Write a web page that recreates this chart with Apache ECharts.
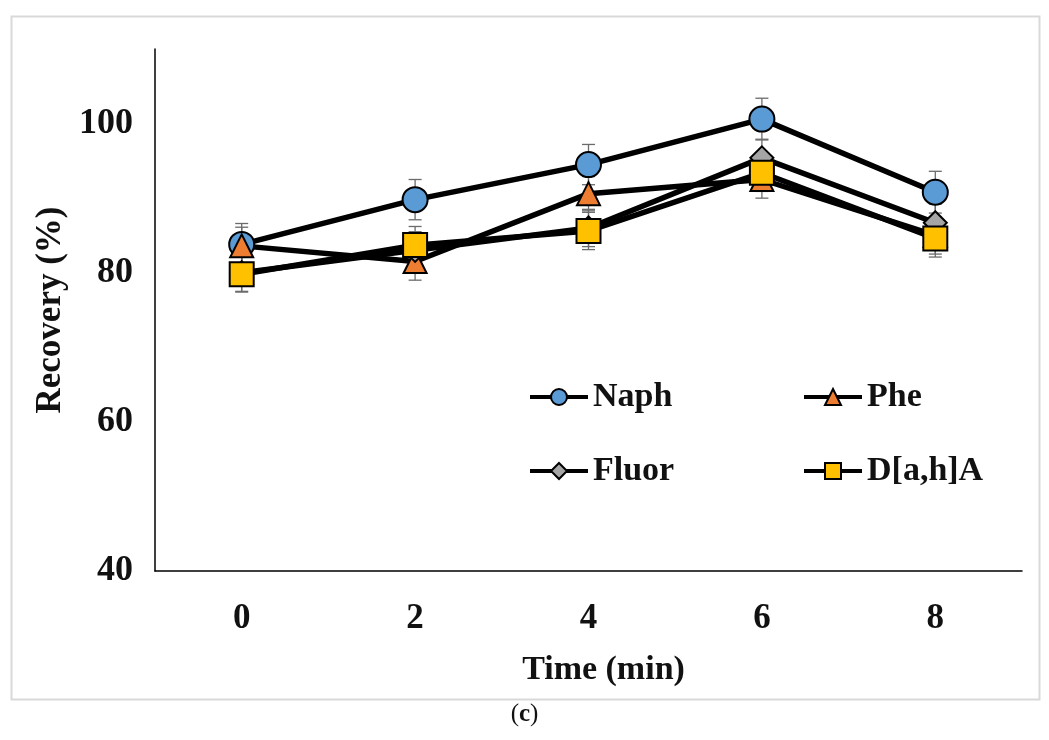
<!DOCTYPE html>
<html>
<head>
<meta charset="utf-8">
<script src="https://cdn.jsdelivr.net/npm/echarts@6/dist/echarts.min.js"></script>
<style>
html,body{margin:0;padding:0;background:#fff;}
#chart{width:1049px;height:740px;}
</style>
</head>
<body>
<div id="chart"></div>
<script>
const categories = ['0', '2', '4', '6', '8'];
const naph  = [83.8, 89.8, 94.5, 100.6, 90.8];
const phe   = [83.6, 81.5, 90.6, 92.5, 85.0];
const fluor = [80.0, 83.0, 86.0, 95.4, 86.7];
const dah   = [79.8, 83.7, 85.6, 93.4, 84.6];
const naphErr  = [2.8, 2.7, 2.7, 2.8, 2.8];
const pheErr   = [2.5, 2.5, 2.3, 2.5, 2.5];
const fluorErr = [2.5, 2.5, 2.5, 2.5, 2.5];
const dahErr   = [2.4, 2.5, 2.5, 2.5, 2.5];
const yTicks = [40, 60, 80, 100];

const FONT = '"Liberation Serif", "DejaVu Serif", serif';
const colors = {Naph:'#5B9BD5', Phe:'#ED7D31', Fluor:'#A5A5A5', 'D[a,h]A':'#FFC000'};

function errSeries(vals, errs, name) {
  return {
    type: 'custom',
    name: name + '_err',
    z: 1,
    silent: true,
    data: vals.map((v, i) => [i, v, errs[i]]),
    renderItem: function (params, api) {
      const x = api.value(0), v = api.value(1), e = api.value(2);
      const top = api.coord([x, v + e]);
      const bot = api.coord([x, v - e]);
      const w = 6.5;
      const st = {stroke: '#6b6b6b', lineWidth: 1.3};
      return {type: 'group', children: [
        {type: 'line', shape: {x1: top[0], y1: top[1], x2: bot[0], y2: bot[1]}, style: st},
        {type: 'line', shape: {x1: top[0]-w, y1: top[1], x2: top[0]+w, y2: top[1]}, style: st},
        {type: 'line', shape: {x1: bot[0]-w, y1: bot[1], x2: bot[0]+w, y2: bot[1]}, style: st}
      ]};
    }
  };
}

function lineSeries(name, vals, symbol, size) {
  return {
    type: 'line',
    name: name,
    data: vals,
    symbol: symbol,
    symbolSize: size,
    z: 3,
    lineStyle: {color: '#000', width: 5.5},
    itemStyle: {color: colors[name], borderColor: '#000', borderWidth: 2},
    emphasis: {disabled: true}
  };
}

function legend(name, left, top) {
  return {
    data: [name], left: left, top: top, orient: 'horizontal',
    itemWidth: 58, itemHeight: 20, selectedMode: false,
    lineStyle: {width: 4, color: '#000'},
    textStyle: {fontFamily: FONT, fontWeight: 'bold', fontSize: 34, color: '#111'}
  };
}

const chart = echarts.init(document.getElementById('chart'), null, {renderer: 'canvas'});
chart.setOption({
  animation: false,
  backgroundColor: '#fff',
  grid: {left: 155, right: 27, top: 49, bottom: 169},
  legend: [
    legend('Naph', 523, 375),
    legend('Phe', 797, 375),
    legend('Fluor', 523, 449),
    legend('D[a,h]A', 797, 449)
  ],
  xAxis: {
    type: 'category',
    data: categories,
    boundaryGap: true,
    name: 'Time (min)',
    nameLocation: 'middle',
    nameGap: 82,
    nameTextStyle: {fontFamily: FONT, fontWeight: 'bold', fontSize: 34, color: '#111', padding: [0, 0, 0, 30]},
    axisLine: {lineStyle: {color: '#000', width: 1.5}},
    axisTick: {show: false},
    axisLabel: {fontFamily: FONT, fontWeight: 'bold', fontSize: 35, color: '#111', margin: 30}
  },
  yAxis: {
    type: 'value',
    min: 40, max: 110, interval: 20,
    name: 'Recovery (%)',
    nameLocation: 'middle',
    nameGap: 86,
    nameTextStyle: {fontFamily: FONT, fontWeight: 'bold', fontSize: 35, color: '#111'},
    axisLine: {show: true, lineStyle: {color: '#000', width: 1.5}},
    axisTick: {show: false},
    splitLine: {show: false},
    axisLabel: {
      fontFamily: FONT, fontWeight: 'bold', fontSize: 36, color: '#111', margin: 22,
      showMaxLabel: false,
      formatter: function (v) { return yTicks.indexOf(v) >= 0 ? String(v) : ''; }
    }
  },
  graphic: [
    {type: 'rect', left: 9, top: 14, shape: {width: 1028, height: 683}, style: {fill: 'none', stroke: '#d9d9d9', lineWidth: 2}, z: -1},
    {type: 'text', left: 'center', top: 702, style: {
      text: '({b|c})', fontFamily: FONT, fontSize: 25, fill: '#111',
      rich: {b: {fontFamily: FONT, fontSize: 25, fontWeight: 'bold', fill: '#111'}}
    }}
  ],
  series: [
    errSeries(naph, naphErr, 'Naph'),
    errSeries(phe, pheErr, 'Phe'),
    errSeries(fluor, fluorErr, 'Fluor'),
    errSeries(dah, dahErr, 'D[a,h]A'),
    lineSeries('Naph', naph, 'circle', 25),
    lineSeries('Phe', phe, 'triangle', 23),
    lineSeries('Fluor', fluor, 'diamond', 23),
    lineSeries('D[a,h]A', dah, 'rect', 24)
  ]
});
</script>
</body>
</html>
